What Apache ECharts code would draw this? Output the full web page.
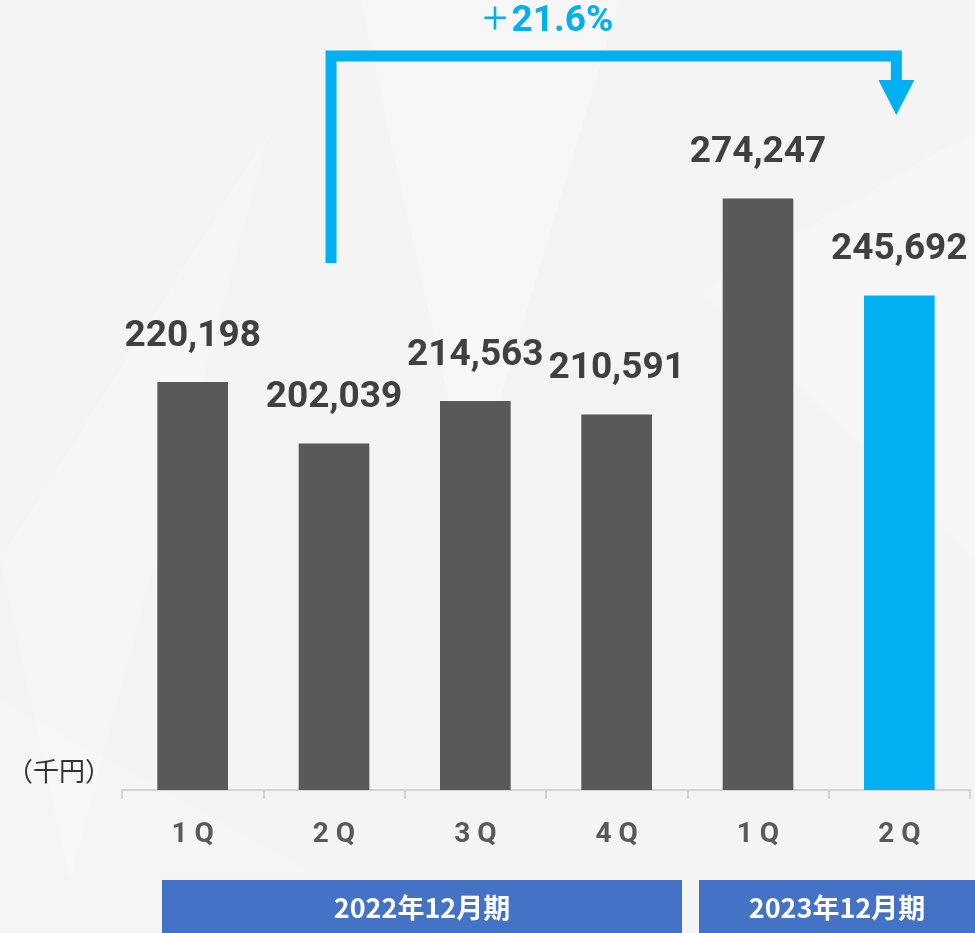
<!DOCTYPE html>
<html>
<head>
<meta charset="utf-8">
<style>
  html, body { margin: 0; padding: 0; background: #f4f4f4; }
  #chart { width: 975px; height: 933px; }
</style>
<script src="https://cdn.jsdelivr.net/npm/echarts@6/dist/echarts.min.js"></script>
</head>
<body>
<div id="chart"></div>
<script>
const categories = ['1Q', '2Q', '3Q', '4Q', '1Q', '2Q'];
const values = [220198, 202039, 214563, 210591, 274247, 245692];
const periodLabels = ['2022年12月期', '2023年12月期'];
const unitLabel = '（千円）';
const growthLabel = '21.6%';

const GRAY = '#595959';
const CYAN = '#00B0F0';
const BLUE = '#4472C4';

const chart = echarts.init(document.getElementById('chart'), null, { renderer: 'canvas' });

const barData = values.map((v, i) => ({
  value: v,
  itemStyle: { color: i === values.length - 1 ? CYAN : GRAY }
}));

const bgPolys = [
  { shape: { points: [[0, 560], [270, 130], [70, 880]] }, fill: 'rgba(255,255,255,0.18)' },
  { shape: { points: [[360, 0], [470, 500], [620, 0]] }, fill: 'rgba(255,255,255,0.25)' },
  { shape: { points: [[700, 290], [975, 130], [975, 560]] }, fill: 'rgba(255,255,255,0.18)' },
  { shape: { points: [[0, 700], [420, 933], [0, 933]] }, fill: 'rgba(255,255,255,0.15)' }
];

const option = {
  backgroundColor: '#f4f4f4',
  animation: false,
  grid: { left: 122, right: 5, top: 111, bottom: 143, containLabel: false },
  xAxis: {
    type: 'category',
    data: categories,
    axisLine: { lineStyle: { color: '#d4d4d4', width: 2 } },
    axisTick: { show: true, length: 9, lineStyle: { color: '#d4d4d4', width: 2 } },
    axisLabel: {
      margin: 31,
      fontSize: 28,
      fontWeight: 'bold',
      color: '#595959',
      fontFamily: 'Roboto',
      formatter: v => v.split('').join(' ')
    }
  },
  yAxis: {
    type: 'value',
    min: 100000,
    max: 300000,
    show: false,
    splitLine: { show: false }
  },
  series: [{
    type: 'bar',
    data: barData,
    barWidth: '50%',
    label: {
      show: true,
      position: 'top',
      distance: 27,
      fontSize: 37,
      fontWeight: 'bold',
      fontFamily: 'Roboto',
      color: '#404040',
      formatter: p => p.value.toLocaleString('en-US')
    }
  }],
  graphic: []
};

chart.setOption(option);

const x1 = chart.convertToPixel({ xAxisIndex: 0 }, 1);
const x5 = chart.convertToPixel({ xAxisIndex: 0 }, 5);
const xL = x1 - 3;
const xR = x5 - 3;

const graphics = [];
bgPolys.forEach(p => graphics.push({ type: 'polygon', z: -10, silent: true, shape: p.shape, style: { fill: p.fill } }));

graphics.push({
  type: 'polyline',
  z: 10,
  shape: { points: [[xL, 263], [xL, 56], [xR, 56], [xR, 84]] },
  style: { stroke: CYAN, lineWidth: 11, fill: null, lineJoin: 'miter' }
});
graphics.push({
  type: 'polygon',
  z: 10,
  shape: { points: [[xR - 18, 80], [xR + 18, 80], [xR, 115]] },
  style: { fill: CYAN }
});
graphics.push({
  type: 'text',
  z: 10,
  x: 548, y: 22,
  style: {
    text: '{p|+}{n|' + growthLabel + '}',
    align: 'center', verticalAlign: 'middle',
    rich: {
      p: { fontSize: 44, fontWeight: 300, fontFamily: 'Roboto', fill: CYAN, color: CYAN, padding: [0, 4, 0, 0] },
      n: { fontSize: 37, fontWeight: 'bold', fontFamily: 'Roboto', fill: CYAN, color: CYAN }
    }
  }
});
graphics.push({
  type: 'text',
  x: 59, y: 771,
  style: {
    text: unitLabel,
    align: 'center', verticalAlign: 'middle',
    font: 'normal 26px "Noto Sans CJK JP"',
    fill: '#333333'
  }
});
// period boxes
const boxes = [
  { x: 162, w: 520, label: periodLabels[0] },
  { x: 699, w: 276, label: periodLabels[1] }
];
boxes.forEach(b => {
  graphics.push({
    type: 'rect',
    shape: { x: b.x, y: 880, width: b.w, height: 53 },
    style: { fill: BLUE }
  });
  graphics.push({
    type: 'text',
    x: b.x + b.w / 2, y: 908,
    style: {
      text: b.label,
      align: 'center', verticalAlign: 'middle',
      font: 'bold 27px "Noto Sans CJK JP"',
      fill: '#ffffff'
    }
  });
});

chart.setOption({ graphic: graphics });
</script>
</body>
</html>
